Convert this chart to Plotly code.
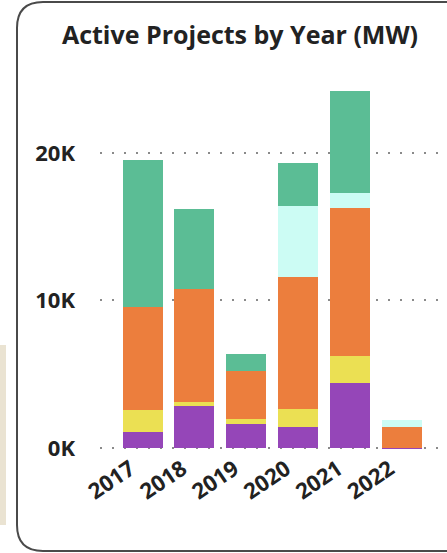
import plotly.graph_objects as go

years = ["2017", "2018", "2019", "2020", "2021", "2022"]
purple_vals = [1100, 2870, 1600, 1450, 4390, 30]
yellow_vals = [1500, 270, 350, 1170, 1850, 0]
orange_vals = [6950, 7660, 3270, 8980, 10050, 1420]
cyan_vals = [0, 0, 0, 4830, 1020, 450]
green_vals = [9950, 5400, 1130, 2910, 6890, 0]

series = [
    ("Purple", purple_vals, "#9546B8"),
    ("Yellow", yellow_vals, "#EBE053"),
    ("Orange", orange_vals, "#EC7E3D"),
    ("Cyan", cyan_vals, "#CCFCF4"),
    ("Green", green_vals, "#5BBD95"),
]

W, H = 447, 553
ML, MR, MT, MB = 100, 0, 79, 99
PW, PH = W - ML - MR, H - MT - MB
YMIN, YMAX = -400, 25000

def px(x):
    return (x - ML) / PW

def py(y):
    return (H - MB - y) / PH

fig = go.Figure()
for name, vals, col in series:
    fig.add_trace(go.Bar(x=years, y=vals, name=name, marker=dict(color=col, line=dict(width=0))))

# card border (rounded, cut off at right)
L, T, B, R = 17, 2, 551, 470
r = 26
path = (f"M {px(R)},{py(T)} L {px(L + r)},{py(T)} Q {px(L)},{py(T)} {px(L)},{py(T + r)} "
        f"L {px(L)},{py(B - r)} Q {px(L)},{py(B)} {px(L + r)},{py(B)} L {px(R)},{py(B)}")

shapes = [
    dict(type="path", xref="paper", yref="paper", path=path,
         line=dict(color="#4a4a4a", width=2), layer="above"),
    dict(type="rect", xref="paper", yref="paper", x0=px(0), x1=px(6), y0=py(525), y1=py(345),
         fillcolor="#EAE3D2", line=dict(width=0), layer="below"),
]

fig.update_layout(
    width=W, height=H,
    margin=dict(l=ML, r=MR, t=MT, b=MB),
    barmode="stack",
    bargap=0.23,
    showlegend=False,
    plot_bgcolor="white",
    paper_bgcolor="white",
    shapes=shapes,
    title=dict(text="Active Projects by Year (MW)", x=240 / W, xanchor="center",
               y=1 - 35 / H, yanchor="middle",
               font=dict(family="Open Sans", size=25, color="#222", weight=700)),
    font=dict(family="Open Sans", color="#222"),
)
fig.update_xaxes(
    type="category", range=[-0.82, 5.87], showgrid=False, zeroline=False, showline=False,
    tickangle=-34, ticklabelshift=-12, ticklabelstandoff=-3,
    tickfont=dict(family="Open Sans", size=22, color="#222", weight=700),
)
fig.update_yaxes(
    range=[YMIN, YMAX], tickvals=[0, 10000, 20000], ticktext=["0K", "10K", "20K"],
    showgrid=True, gridcolor="#8a8a8a", gridwidth=2, griddash="2px,10px",
    zeroline=False, showline=False, ticklabelstandoff=24,
    tickfont=dict(family="Open Sans", size=22, color="#222", weight=700),
)
fig.write_html("out.html")
